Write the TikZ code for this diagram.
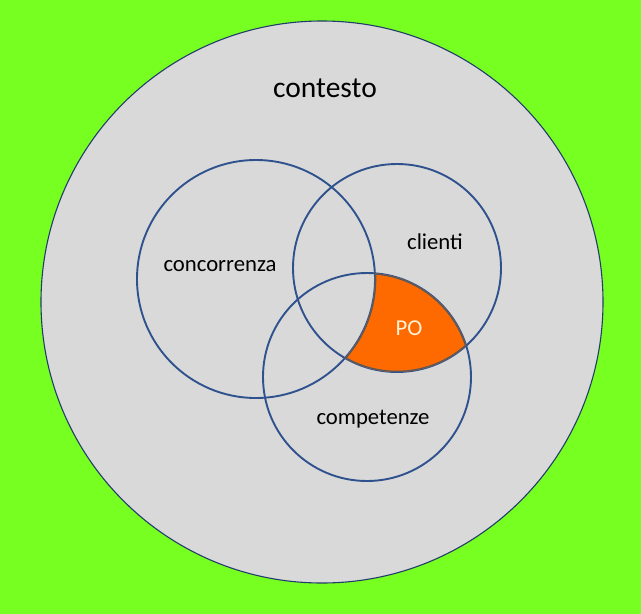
\documentclass[tikz,border=0pt]{standalone}
\usepackage{fontspec}
\setmainfont{Carlito}
\definecolor{lawn}{RGB}{118,255,32}
\definecolor{ctxgrey}{RGB}{217,217,217}
\definecolor{ring}{RGB}{47,82,143}
\definecolor{poorange}{RGB}{255,106,0}
\definecolor{potext}{RGB}{255,242,214}
\tikzset{ctxcircle/.style={fill=ctxgrey,draw=ring!75!black,line width=1.1pt},
         setcircle/.style={draw=ring,line width=1.9pt},
         poedge/.style={draw=black!65,line width=2.6pt},
         setlabel/.style={anchor=base,inner sep=0pt,font=\fontsize{22.7}{27}\selectfont}}

\begin{document}
\begin{tikzpicture}[x=1pt,y=-1pt]
  % pixel frame of the sketch: origin top left, y runs down
  \fill[lawn] (0,0) rectangle (641,614);
  \useasboundingbox (0,0) rectangle (641,614);
  \coordinate (ctx)  at (322,302);
  \coordinate (conc) at (256,279);
  \coordinate (cli)  at (397,268);
  \coordinate (comp) at (367,377);
  \draw[ctxcircle] (ctx) circle[radius=281];
  \draw[setcircle] (conc) circle[radius=119];
  \draw[setcircle] (cli) circle[radius=104];
  \draw[setcircle] (comp) circle[radius=104];
  % clienti and competenze, without concorrenza
  \begin{scope}
    \clip (cli) circle[radius=104];
    \clip (comp) circle[radius=104];
    \begin{scope}[even odd rule]
      \clip (0,0) rectangle (641,614) (conc) circle[radius=119];
      \fill[poorange] (0,0) rectangle (641,614);
      \draw[poedge] (cli) circle[radius=104] (comp) circle[radius=104]
                    (conc) circle[radius=119];
    \end{scope}
  \end{scope}
  \node[anchor=base,inner sep=0pt,font=\fontsize{29.5}{34}\selectfont] (contesto) at (325,97) {contesto};
  \node[setlabel] (concorrenza) at (220,271) {concorrenza};
  \node[setlabel] (clienti) at (435,249) {clienti};
  \node[setlabel,text=potext] (po) at (409,335) {PO};
  \node[setlabel] (competenze) at (373,424) {competenze};
\end{tikzpicture}
\end{document}
